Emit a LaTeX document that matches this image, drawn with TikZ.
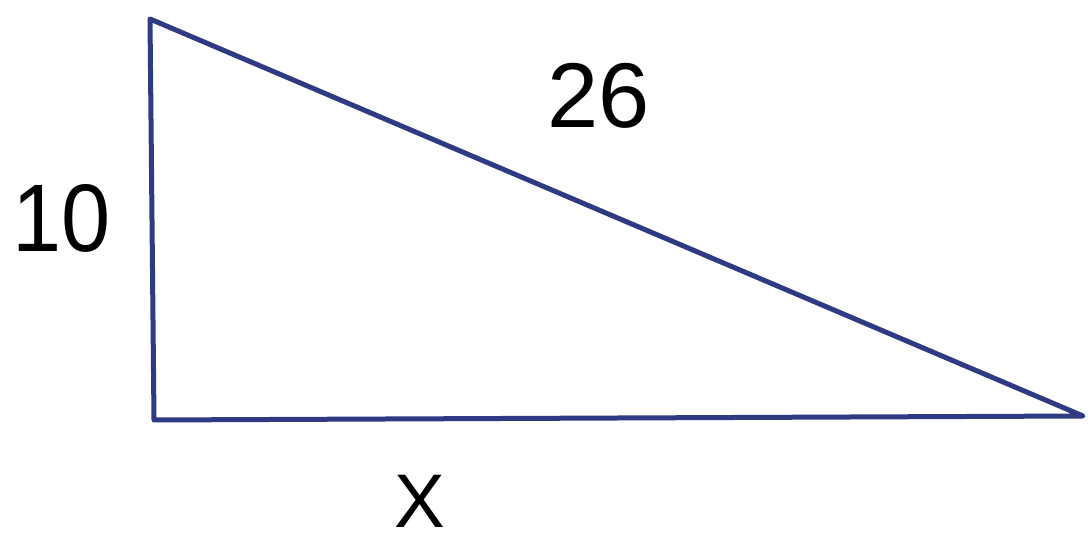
\documentclass[tikz,border=0pt]{standalone}
\usepackage{fontspec}
\setmainfont{Liberation Sans}
\definecolor{ink}{HTML}{2E3A82}
\begin{document}
\begin{tikzpicture}[x=1pt,y=1pt,
  side/.style={draw=ink,line width=5pt,line join=round,line cap=round},
  lbl/.style={inner sep=0pt,text=black}]
\useasboundingbox (0,0) rectangle (1088,538);
\coordinate (A) at (150,519);
\coordinate (B) at (154,118);
\coordinate (C) at (1083,122);
\draw[side] (A) -- (B) -- (C) -- cycle;
\node[lbl,font=\fontsize{92}{100}\selectfont] (h) at (599,442) {26};
\node[lbl,font=\fontsize{96}{100}\selectfont,xscale=0.92] (a) at (62,320) {10};
\node[lbl,font=\fontsize{76}{90}\selectfont] (x) at (420,37) {X};
\end{tikzpicture}
\end{document}
